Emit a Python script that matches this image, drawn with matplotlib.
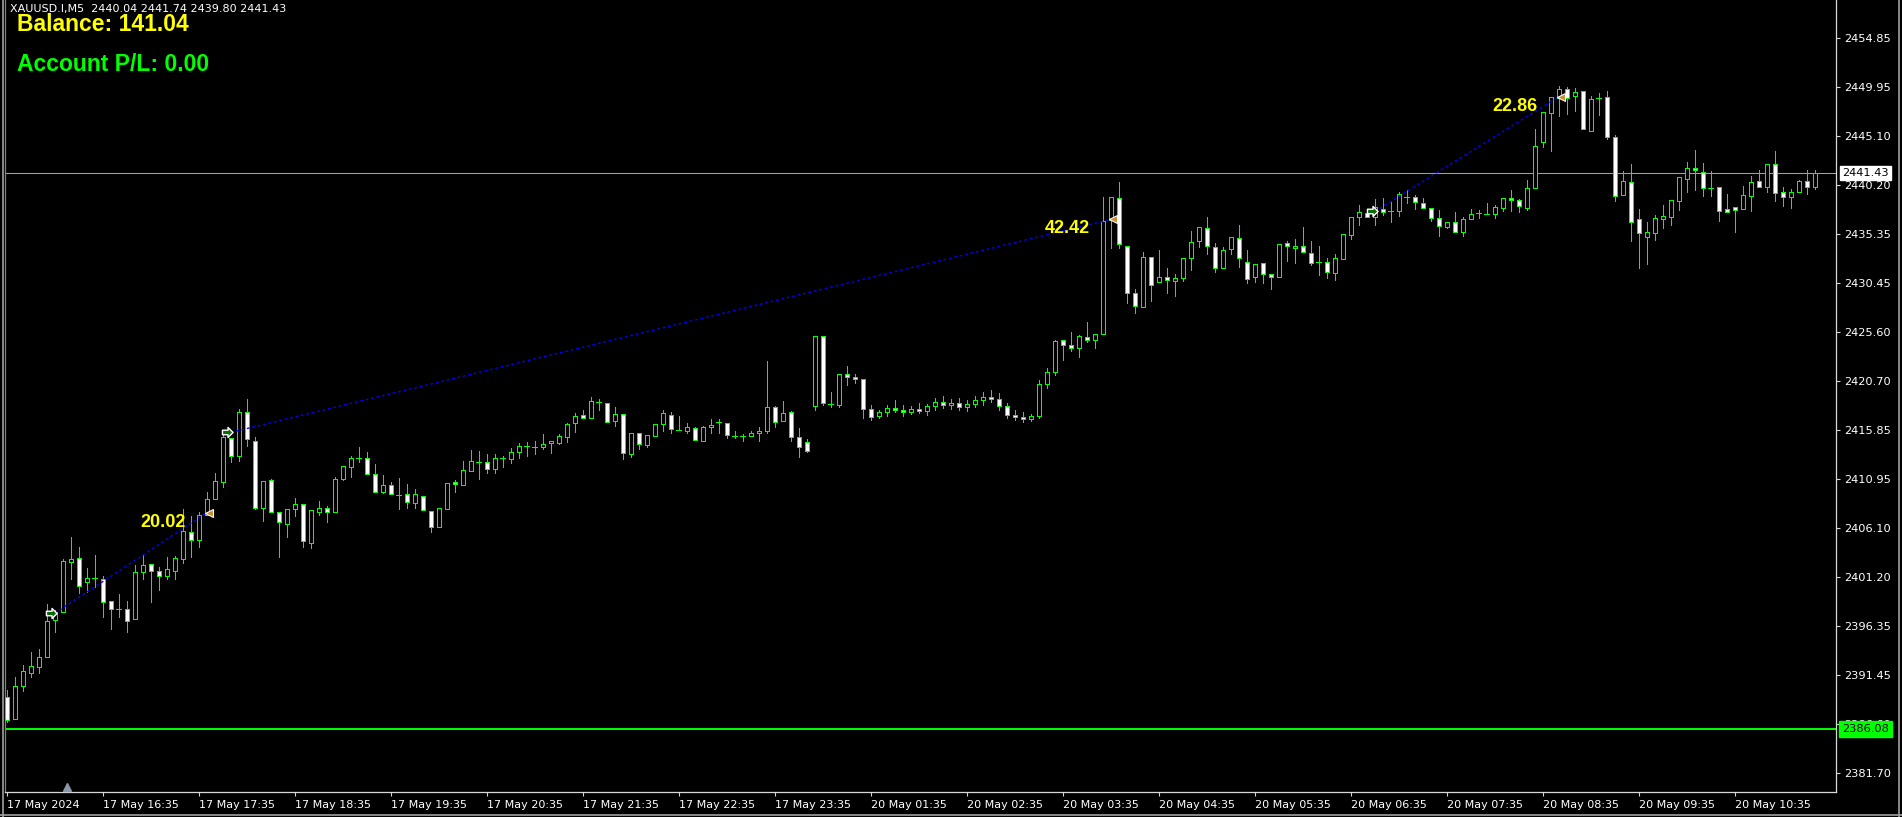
import matplotlib
matplotlib.use('Agg')
import matplotlib.pyplot as plt
from matplotlib.patches import Rectangle
from matplotlib.path import Path
from matplotlib.lines import Line2D
import matplotlib.transforms as mtransforms

# ---------------- data (XAUUSD.I, M5) ----------------
opens = [
    2389.28, 2387.09, 2390.37, 2391.67, 2392.26, 2393.26, 2396.94, 2397.74, 2402.71, 2403.11,
    2400.72, 2401.12, 2401.02, 2398.83, 2398.03, 2398.03, 2397.04, 2401.71, 2402.51, 2401.81,
    2401.32, 2401.81, 2403.01, 2405.70, 2404.90, 2407.39, 2408.98, 2410.67, 2415.05, 2413.26,
    2417.64, 2414.75, 2408.08, 2410.87, 2407.69, 2406.49, 2407.98, 2408.48, 2404.60, 2407.69,
    2408.08, 2407.69, 2410.97, 2412.16, 2413.06, 2413.06, 2411.47, 2409.68, 2410.37, 2409.38,
    2409.48, 2408.58, 2409.28, 2407.79, 2406.19, 2407.98, 2410.67, 2410.37, 2411.77, 2412.66,
    2412.66, 2411.96, 2413.06, 2412.96, 2413.66, 2414.25, 2414.15, 2414.15, 2414.55, 2414.55,
    2415.15, 2416.54, 2417.34, 2417.04, 2418.63, 2418.53, 2416.74, 2417.44, 2413.46, 2415.55,
    2414.35, 2415.25, 2416.44, 2417.34, 2415.85, 2415.75, 2416.04, 2414.75, 2416.14, 2416.64,
    2416.54, 2415.25, 2415.25, 2415.25, 2415.55, 2415.75, 2418.13, 2416.74, 2417.64, 2415.15,
    2414.65, 2418.23, 2425.20, 2418.43, 2418.33, 2421.42, 2421.12, 2420.92, 2417.93, 2417.24,
    2417.64, 2418.03, 2417.83, 2417.64, 2417.93, 2417.74, 2418.23, 2418.63, 2418.33, 2418.53,
    2418.13, 2418.43, 2418.83, 2419.13, 2418.93, 2418.23, 2417.34, 2417.14, 2416.94, 2417.24,
    2420.42, 2421.62, 2424.80, 2424.30, 2424.00, 2425.10, 2424.80, 2425.40, 2436.74, 2438.93,
    2434.15, 2429.47, 2428.08, 2433.05, 2430.56, 2431.06, 2430.66, 2430.96, 2432.95, 2434.65,
    2435.94, 2434.05, 2431.95, 2433.85, 2434.95, 2432.56, 2431.06, 2432.46, 2431.36, 2431.06,
    2434.45, 2433.95, 2434.15, 2433.45, 2432.56, 2432.56, 2431.46, 2432.85, 2435.25, 2437.04,
    2437.44, 2437.04, 2437.83, 2437.64, 2437.64, 2439.03, 2439.03, 2438.43, 2437.93, 2436.94,
    2436.04, 2436.54, 2435.55, 2436.84, 2437.44, 2437.34, 2437.34, 2437.93, 2438.93, 2438.73,
    2437.93, 2439.93, 2444.50, 2447.39, 2448.88, 2449.78, 2449.08, 2449.58, 2445.59, 2448.88,
    2448.98, 2445.00, 2439.23, 2440.52, 2436.84, 2435.05, 2435.45, 2436.84, 2437.04, 2438.63,
    2440.87, 2441.87, 2441.52, 2439.93, 2440.02, 2437.83, 2438.03, 2437.83, 2439.13, 2440.62,
    2440.02, 2442.31, 2439.53, 2439.03, 2439.53, 2440.62, 2440.04]

highs = [
    2389.98, 2391.27, 2392.46, 2393.76, 2394.05, 2398.53, 2397.93, 2403.01, 2405.20, 2404.20,
    2402.11, 2403.41, 2401.32, 2398.83, 2399.53, 2398.83, 2402.41, 2403.51, 2402.51, 2402.21,
    2403.21, 2403.31, 2407.98, 2407.29, 2407.69, 2409.68, 2411.57, 2415.45, 2415.05, 2417.93,
    2418.93, 2415.15, 2410.77, 2410.97, 2407.69, 2407.98, 2409.08, 2408.48, 2407.88, 2408.78,
    2408.28, 2411.17, 2412.26, 2413.26, 2414.15, 2413.66, 2412.46, 2411.37, 2410.67, 2411.07,
    2410.47, 2409.97, 2409.28, 2407.79, 2408.08, 2410.57, 2410.87, 2412.76, 2413.86, 2413.76,
    2413.46, 2413.46, 2413.26, 2414.05, 2414.55, 2414.65, 2414.75, 2415.45, 2414.75, 2415.45,
    2416.54, 2417.54, 2417.83, 2419.13, 2418.93, 2418.53, 2418.13, 2417.44, 2415.55, 2415.55,
    2415.35, 2416.44, 2417.83, 2417.64, 2417.24, 2416.54, 2416.14, 2416.24, 2416.94, 2416.94,
    2416.54, 2415.75, 2415.45, 2415.75, 2416.14, 2422.71, 2418.23, 2418.73, 2417.74, 2416.04,
    2414.95, 2425.20, 2425.20, 2419.63, 2421.42, 2422.21, 2421.42, 2420.92, 2418.33, 2417.83,
    2418.33, 2418.83, 2418.33, 2418.23, 2418.53, 2418.43, 2419.03, 2419.23, 2418.93, 2419.03,
    2418.83, 2419.23, 2419.63, 2419.83, 2419.53, 2418.53, 2417.83, 2417.64, 2417.44, 2420.82,
    2422.01, 2424.80, 2424.80, 2425.60, 2425.30, 2426.59, 2425.40, 2439.03, 2439.03, 2440.52,
    2434.15, 2429.87, 2433.55, 2433.05, 2433.75, 2431.95, 2431.36, 2432.95, 2435.65, 2436.04,
    2437.04, 2434.45, 2434.05, 2435.05, 2436.24, 2433.75, 2432.36, 2432.46, 2431.36, 2434.35,
    2434.65, 2434.85, 2436.04, 2434.65, 2434.15, 2432.95, 2433.35, 2435.35, 2437.04, 2438.23,
    2437.44, 2438.83, 2438.93, 2438.53, 2439.53, 2439.73, 2439.23, 2438.93, 2437.93, 2437.74,
    2436.54, 2437.54, 2437.04, 2437.83, 2437.74, 2438.43, 2438.23, 2438.93, 2439.73, 2438.83,
    2440.72, 2445.79, 2447.49, 2448.98, 2450.07, 2449.97, 2449.88, 2449.58, 2449.08, 2449.38,
    2449.58, 2445.20, 2441.62, 2442.31, 2437.83, 2436.54, 2437.24, 2438.23, 2438.73, 2440.97,
    2442.56, 2443.70, 2442.46, 2441.62, 2440.02, 2439.33, 2438.03, 2440.12, 2441.07, 2441.72,
    2442.31, 2443.61, 2440.02, 2439.83, 2440.72, 2441.72, 2441.74]

lows = [
    2386.79, 2387.09, 2389.88, 2391.27, 2391.67, 2393.26, 2395.75, 2397.74, 2401.02, 2399.63,
    2399.73, 2400.22, 2397.24, 2396.04, 2397.24, 2395.75, 2397.04, 2401.02, 2398.73, 2399.93,
    2401.02, 2401.02, 2402.61, 2403.21, 2404.20, 2407.39, 2408.98, 2410.17, 2412.66, 2412.76,
    2414.25, 2407.98, 2406.79, 2407.69, 2403.21, 2405.20, 2407.29, 2404.20, 2404.10, 2407.39,
    2406.69, 2407.69, 2410.87, 2411.17, 2412.66, 2411.47, 2409.68, 2409.58, 2409.48, 2407.98,
    2408.08, 2408.08, 2407.88, 2405.70, 2406.19, 2407.98, 2409.68, 2410.37, 2411.77, 2410.97,
    2411.57, 2411.57, 2412.16, 2412.56, 2413.06, 2413.26, 2413.46, 2413.95, 2413.56, 2414.45,
    2414.65, 2415.65, 2417.04, 2417.04, 2417.83, 2416.64, 2416.24, 2412.96, 2413.16, 2413.95,
    2414.15, 2415.25, 2415.75, 2415.55, 2415.85, 2415.55, 2414.85, 2414.75, 2415.55, 2415.55,
    2415.05, 2415.05, 2414.75, 2415.25, 2414.75, 2415.55, 2416.14, 2416.74, 2414.75, 2413.16,
    2413.66, 2417.83, 2418.33, 2418.13, 2418.13, 2420.33, 2420.52, 2417.04, 2416.84, 2417.04,
    2417.24, 2417.64, 2417.24, 2417.44, 2417.54, 2417.34, 2417.83, 2418.03, 2417.93, 2417.83,
    2417.74, 2418.13, 2418.33, 2418.63, 2417.83, 2417.04, 2416.84, 2416.64, 2416.74, 2417.04,
    2420.03, 2421.32, 2422.81, 2423.71, 2423.11, 2424.60, 2424.00, 2425.40, 2433.95, 2433.95,
    2428.48, 2427.49, 2428.08, 2428.68, 2430.56, 2429.47, 2429.17, 2430.66, 2431.76, 2434.05,
    2433.35, 2431.56, 2431.95, 2433.35, 2432.05, 2430.46, 2430.56, 2430.46, 2429.87, 2431.06,
    2432.66, 2432.46, 2433.55, 2432.26, 2431.27, 2430.96, 2430.76, 2432.85, 2434.85, 2436.24,
    2437.04, 2436.24, 2437.24, 2436.54, 2437.14, 2438.43, 2437.83, 2437.93, 2436.64, 2435.15,
    2435.94, 2435.55, 2435.15, 2436.84, 2436.94, 2437.34, 2436.94, 2437.64, 2437.64, 2437.54,
    2437.74, 2439.93, 2444.00, 2443.61, 2447.09, 2447.29, 2447.59, 2445.79, 2445.59, 2447.19,
    2444.80, 2438.63, 2439.23, 2434.65, 2431.95, 2432.36, 2434.75, 2435.94, 2436.24, 2437.74,
    2439.53, 2439.73, 2439.13, 2439.13, 2436.64, 2437.54, 2435.55, 2437.83, 2437.64, 2440.02,
    2439.53, 2438.63, 2438.13, 2437.93, 2439.53, 2439.33, 2439.80]

closes = [
    2386.99, 2390.37, 2391.87, 2392.36, 2393.26, 2396.84, 2397.74, 2402.81, 2403.01, 2400.32,
    2401.12, 2401.12, 2398.73, 2398.03, 2398.03, 2396.84, 2401.71, 2402.41, 2401.81, 2401.32,
    2402.01, 2403.11, 2405.80, 2404.90, 2407.39, 2408.98, 2410.77, 2415.15, 2413.26, 2417.64,
    2414.95, 2408.08, 2410.77, 2407.69, 2406.69, 2407.98, 2408.48, 2404.80, 2407.88, 2408.08,
    2407.69, 2410.97, 2412.26, 2413.06, 2413.06, 2411.47, 2409.68, 2410.37, 2409.48, 2409.38,
    2408.68, 2409.48, 2407.88, 2406.19, 2408.08, 2410.57, 2410.47, 2411.87, 2412.76, 2412.66,
    2411.96, 2413.06, 2413.06, 2413.66, 2414.25, 2414.25, 2414.15, 2414.45, 2414.75, 2415.25,
    2416.44, 2417.24, 2417.04, 2418.73, 2418.63, 2416.64, 2417.44, 2413.56, 2415.55, 2414.45,
    2415.35, 2416.44, 2417.54, 2415.94, 2415.85, 2416.14, 2414.85, 2416.14, 2416.34, 2416.64,
    2415.35, 2415.25, 2415.25, 2415.55, 2415.75, 2418.13, 2416.64, 2417.54, 2415.15, 2414.15,
    2413.76, 2425.20, 2418.53, 2418.43, 2421.42, 2421.12, 2420.92, 2417.93, 2417.14, 2417.64,
    2418.03, 2417.83, 2417.64, 2417.93, 2417.74, 2418.23, 2418.63, 2418.33, 2418.53, 2418.13,
    2418.43, 2418.83, 2419.13, 2418.93, 2418.23, 2417.34, 2417.14, 2416.94, 2417.24, 2420.42,
    2421.62, 2424.70, 2424.30, 2424.00, 2425.20, 2424.80, 2425.40, 2436.64, 2439.03, 2434.35,
    2429.47, 2428.18, 2433.05, 2430.26, 2431.06, 2430.76, 2430.96, 2432.95, 2434.55, 2436.04,
    2434.15, 2431.95, 2433.75, 2435.05, 2432.95, 2430.86, 2432.36, 2431.36, 2431.06, 2434.35,
    2434.15, 2434.15, 2433.55, 2432.46, 2432.56, 2431.56, 2432.95, 2435.35, 2437.04, 2437.54,
    2437.04, 2438.03, 2437.54, 2437.64, 2439.33, 2439.03, 2438.53, 2437.93, 2436.94, 2436.14,
    2436.54, 2435.55, 2436.84, 2437.34, 2437.44, 2437.34, 2438.03, 2438.93, 2438.73, 2438.13,
    2439.93, 2444.10, 2447.49, 2448.98, 2449.78, 2448.88, 2449.48, 2445.79, 2448.78, 2448.88,
    2445.00, 2439.13, 2440.62, 2436.54, 2435.45, 2435.55, 2436.94, 2437.14, 2438.73, 2440.97,
    2441.87, 2441.67, 2439.93, 2439.93, 2437.64, 2437.54, 2437.74, 2439.23, 2440.52, 2440.02,
    2442.31, 2439.43, 2439.03, 2439.53, 2440.62, 2440.02, 2441.43]

time_tick_bars = [0, 12, 24, 36, 48, 60, 72, 84, 96, 108, 120, 132, 144, 156, 168, 180, 192, 204, 216]
time_tick_labels = ['17 May 2024', '17 May 16:35', '17 May 17:35', '17 May 18:35', '17 May 19:35',
                    '17 May 20:35', '17 May 21:35', '17 May 22:35', '17 May 23:35', '20 May 01:35',
                    '20 May 02:35', '20 May 03:35', '20 May 04:35', '20 May 05:35', '20 May 06:35',
                    '20 May 07:35', '20 May 08:35', '20 May 09:35', '20 May 10:35']
price_ticks = [2454.85, 2449.95, 2445.10, 2440.20, 2435.35, 2430.45, 2425.60, 2420.70,
               2415.85, 2410.95, 2406.10, 2401.20, 2396.35, 2391.45, 2386.60, 2381.70]

bid_price = 2441.43
level_price = 2386.08

trade_open_bar = [6, 28, 171]
trade_open_price = [2397.6, 2415.6, 2437.6]
trade_close_bar = [25, 138, 194]
trade_close_price = [2407.6, 2436.8, 2449.0]
trade_profit = ['20.02', '42.42', '22.86']

header = 'XAUUSD.I,M5  2440.04 2441.74 2439.80 2441.43'
balance_text = 'Balance: 141.04'
pl_text = 'Account P/L: 0.00'

# ---------------- figure ----------------
W, H = 1902, 817
fig = plt.figure(figsize=(W / 100, H / 100), dpi=100, facecolor='black')
ax = fig.add_axes([5 / W, 25 / H, 1831 / W, 792 / H])
ax.set_facecolor('black')

GREEN = '#00ff00'
n = len(opens)
for i in range(n):
    o, h, l, c = opens[i], highs[i], lows[i], closes[i]
    ax.plot([i, i], [l, h], color=GREEN, lw=0.72, zorder=2, antialiased=False,
            solid_capstyle='butt')
    if abs(c - o) < 0.05:
        ax.plot([i - 0.3, i + 0.3], [c, c], color=GREEN, lw=0.72, zorder=3,
                antialiased=False, solid_capstyle='butt')
    else:
        face = 'black' if c > o else 'white'
        ax.add_patch(Rectangle((i - 0.25, min(o, c)), 0.5, abs(c - o), facecolor=face,
                               edgecolor=GREEN, lw=0.7, zorder=3, antialiased=False))

# horizontal lines
ax.axhline(bid_price, color='#a0a0a8', lw=0.75, zorder=1)
ax.axhline(level_price, color=GREEN, lw=1.4, zorder=1)

# trades
arrow_path = Path([(-1, 0.45), (0.1, 0.45), (0.1, 1.0), (1.1, 0.0), (0.1, -1.0),
                   (0.1, -0.45), (-1, -0.45), (-1, 0.45)],
                  [Path.MOVETO] + [Path.LINETO] * 6 + [Path.CLOSEPOLY])
for ob, op, cb, cp, pr in zip(trade_open_bar, trade_open_price, trade_close_bar,
                              trade_close_price, trade_profit):
    ax.plot([ob, cb], [op, cp], color='#0000ff', lw=1.0, linestyle=(0, (2, 2)), zorder=4)
    ax.plot(ob - 0.4, op, marker=arrow_path, ms=8, mfc='#0a6a0a', mec='white', mew=1,
            zorder=6)
    ax.plot(cb + 0.25, cp, marker='<', ms=6, mfc='#d08a2a', mec='white', mew=0.8, zorder=6)
    ax.annotate(pr, xy=(cb, cp), xytext=(-21, -14), textcoords='offset pixels',
                ha='right', va='baseline', color='#ffff00', fontsize=13,
                fontweight='bold', family='Liberation Sans', zorder=7)

# axes limits
ax.set_xlim(-0.21, 228.66)
ax.set_ylim(2379.83, 2458.63)

# spines
ax.spines['top'].set_visible(False)
ax.spines['left'].set_color('#808080')
ax.spines['right'].set_color('#d8d8d8')
ax.spines['bottom'].set_color('#d8d8d8')
for s in ax.spines.values():
    s.set_linewidth(0.9)

# ticks
ax.yaxis.tick_right()
ax.set_yticks(price_ticks)
ax.set_yticklabels(['%.2f' % p for p in price_ticks])
ax.set_xticks(time_tick_bars)
ax.set_xticklabels(time_tick_labels)
for lab in ax.get_xticklabels():
    lab.set_ha('left')
ax.tick_params(axis='y', which='both', direction='out', length=3, width=0.8, color='#d8d8d8',
               labelcolor='white', labelsize=8.2, pad=3, left=False)
ax.tick_params(axis='x', which='both', direction='out', length=3, width=0.8, color='#d8d8d8',
               labelcolor='white', labelsize=8, pad=3)
for lab in ax.get_xticklabels() + ax.get_yticklabels():
    lab.set_family('DejaVu Sans')

# price boxes on the right axis
ax.annotate('%.2f' % bid_price, xy=(1, bid_price), xycoords=('axes fraction', 'data'),
            xytext=(6, 0), textcoords='offset pixels', ha='left', va='center',
            fontsize=8.2, color='black', family='DejaVu Sans', annotation_clip=False,
            bbox=dict(boxstyle='square,pad=0.2', fc='white', ec='white'), zorder=10)
ax.annotate('%.2f' % level_price, xy=(1, level_price), xycoords=('axes fraction', 'data'),
            xytext=(6, 0), textcoords='offset pixels', ha='left', va='center',
            fontsize=8.2, color='black', family='DejaVu Sans', annotation_clip=False,
            bbox=dict(boxstyle='square,pad=0.25', fc=GREEN, ec=GREEN), zorder=10)

# small shift marker at bottom
trans = mtransforms.blended_transform_factory(ax.transData, ax.transAxes)
ax.plot(7.5, 0.006, marker='^', ms=6, color='#8898a8', transform=trans, clip_on=False, zorder=8)

# texts
fig.text(10 / W, 1 - 12 / H, header, color='white', fontsize=8, family='DejaVu Sans',
         va='baseline')
fig.text(17 / W, 1 - 31 / H, balance_text, color='#ffff00', fontsize=16.5, fontweight='bold',
         family='Liberation Sans', va='baseline')
fig.text(17 / W, 1 - 71 / H, pl_text, color='#00ff00', fontsize=16.5, fontweight='bold',
         family='Liberation Sans', va='baseline')

# window frame
fig.add_artist(Line2D([3 / W, 3 / W], [0, 1], color='#a0a0a0', lw=1.2,
                      transform=fig.transFigure))
fig.add_artist(Line2D([1899 / W, 1899 / W], [0, 1], color='#a0a0a0', lw=1.2,
                      transform=fig.transFigure))
fig.add_artist(Line2D([0, 1], [2 / H, 2 / H], color='#a0a0a0', lw=1.2,
                      transform=fig.transFigure))

fig.savefig('out.png', dpi=100, facecolor='black')
